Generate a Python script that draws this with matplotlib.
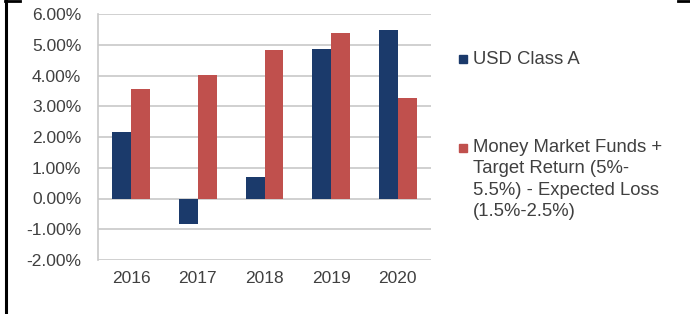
import numpy as np
import matplotlib.pyplot as plt
from matplotlib.lines import Line2D
from matplotlib.patches import Rectangle

plt.rcParams['font.family'] = ['Liberation Sans', 'DejaVu Sans']

years = ["2016", "2017", "2018", "2019", "2020"]
usd_class_a = [2.17, -0.84, 0.71, 4.85, 5.49]
money_market = [3.57, 4.02, 4.82, 5.39, 3.26]
labels = ["USD Class A",
          "Money Market Funds +\nTarget Return (5%-\n5.5%) - Expected Loss\n(1.5%-2.5%)"]

blue = "#1B3A6B"
red = "#C0504D"
grey_txt = "#404040"

fig = plt.figure(figsize=(6.9, 3.14), dpi=100)
ax = fig.add_axes([98 / 690, 1 - 260 / 314, (431 - 98) / 690, (260 - 14) / 314])

x = np.arange(len(years))
w = 0.285
ax.bar(x - w / 2, usd_class_a, w, color=blue, zorder=3)
ax.bar(x + w / 2, money_market, w, color=red, zorder=3)

ax.set_xlim(-0.5, len(years) - 0.5)
ax.set_ylim(-2, 6)
ax.set_yticks(np.arange(-2, 7, 1))
ax.set_yticklabels([f"{v:.2f}%" for v in np.arange(-2, 7, 1)])
ax.set_xticks(x)
ax.set_xticklabels(years)
ax.tick_params(length=0, labelsize=12.5, colors=grey_txt, pad=8)
ax.tick_params(axis='y', pad=12)
ax.grid(axis='y', color="#c8c8c8", linewidth=1.2, zorder=0)
for s in ["top", "right", "bottom"]:
    ax.spines[s].set_visible(False)
ax.spines["left"].set_color("#c8c8c8")
ax.spines["left"].set_linewidth(1.2)

# legend drawn by hand on the right
fig.patches.append(Rectangle((459 / 690, 1 - 63 / 314), 8 / 690, 8 / 314,
                             transform=fig.transFigure, color=blue))
fig.patches.append(Rectangle((459 / 690, 1 - 152 / 314), 8 / 690, 8 / 314,
                             transform=fig.transFigure, color=red))
fig.text(473 / 690, 1 - 59 / 314, labels[0], fontsize=13.3, color=grey_txt, va='center', ha='left')
fig.text(473 / 690, 1 - 139 / 314, labels[1], fontsize=13.3, color=grey_txt, va='top', ha='left',
         linespacing=1.33)

# black frame fragments
fig.add_artist(Line2D([6 / 690, 6 / 690], [0, 1], color="black", linewidth=2.2, transform=fig.transFigure))
fig.add_artist(Line2D([5 / 690, 20 / 690], [1 - 1 / 314, 1 - 1 / 314], color="black", linewidth=2,
                      transform=fig.transFigure))
fig.add_artist(Line2D([678 / 690, 690 / 690], [1 - 1 / 314, 1 - 1 / 314], color="black", linewidth=2,
                      transform=fig.transFigure))

fig.savefig("out.png", dpi=100)
